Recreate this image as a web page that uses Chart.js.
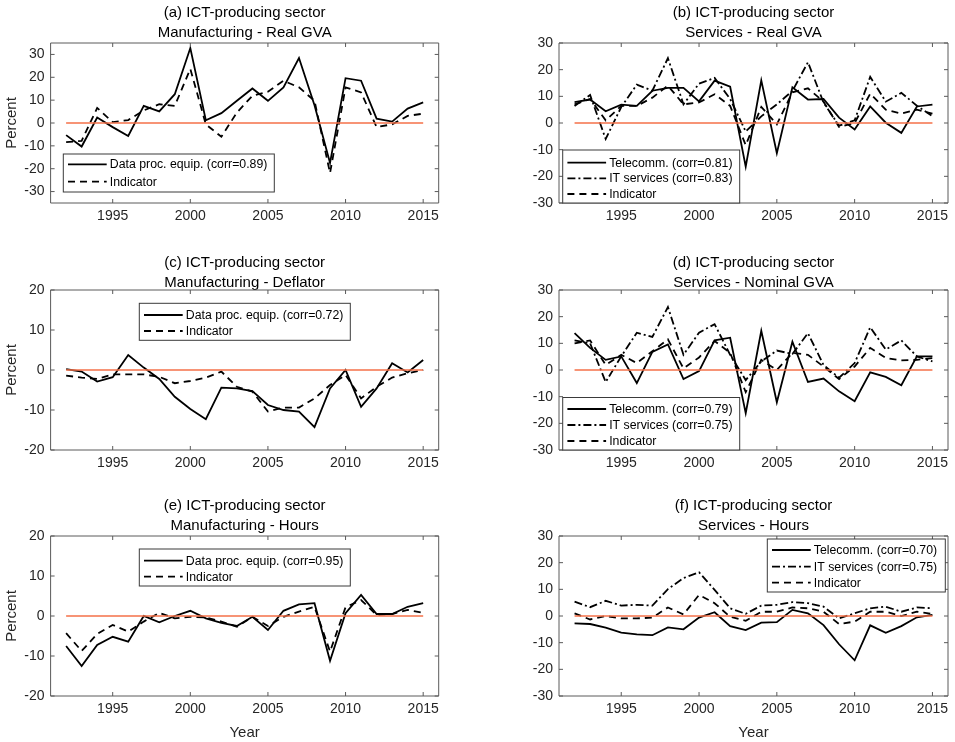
<!DOCTYPE html>
<html>
<head>
<meta charset="utf-8">
<script src="https://cdn.jsdelivr.net/npm/chart.js@4.4.1/dist/chart.umd.min.js"></script>
<style>
  html, body { margin:0; padding:0; background:#fff; }
  #wrap { position:relative; width:955px; height:742px; background:#fff; overflow:hidden; }
  #wrap canvas { position:absolute; }
</style>
</head>
<body>
<div id="wrap"></div>
<script>
// ---------------- DATA ----------------
const years = [1992,1993,1994,1995,1996,1997,1998,1999,2000,2001,2002,2003,2004,2005,2006,2007,2008,2009,2010,2011,2012,2013,2014,2015];
const xTicks = [1995,2000,2005,2010,2015];
const yTicksA = [-30,-20,-10,0,10,20,30];
const yTicks30 = [-30,-20,-10,0,10,20,30];
const yTicks20 = [-20,-10,0,10,20];
const refLine = [0,0,0,0,0,0,0,0,0,0,0,0,0,0,0,0,0,0,0,0,0,0,0,0];

// (a) Manufacturing - Real GVA
const aEquip = [-5.3,-10.3,2.4,-1.8,-5.7,7.5,5.1,12.6,32.8,1.2,4.3,9.7,15.1,9.7,15.6,28.4,7.8,-17.5,19.6,18.5,1.9,0.6,6.3,9.0];
const aInd   = [-8.4,-7.8,6.6,0.4,1.3,5.5,8.2,7.5,23.7,-0.6,-6.0,4.6,11.9,13.7,18.5,15.6,9.7,-21.9,15.6,13.4,-1.8,-0.6,3.1,4.1];
// (b) Services - Real GVA
const bTele = [7.8,8.8,4.4,6.9,6.4,12.1,13.2,13.2,8.1,15.9,13.6,-16.4,16.0,-11.3,13.4,8.8,9.0,2.0,-2.4,6.2,0.1,-3.7,6.2,6.9];
const bIT   = [6.4,10.5,-6.0,6.0,14.4,12.1,24.3,7.0,14.8,16.9,9.0,-3.2,2.5,7.0,12.0,22.8,7.7,-1.0,1.0,17.3,8.0,11.3,6.5,2.5];
const bInd  = [7.0,9.0,1.0,6.4,6.4,9.5,14.0,7.0,7.7,10.8,6.4,-8.3,6.0,-0.5,11.5,13.0,8.0,-1.5,0.0,11.0,5.0,3.5,5.0,3.5];
// (c) Manufacturing - Deflator
const cEquip = [0.2,-0.4,-2.9,-1.8,3.75,0.6,-2.25,-6.7,-9.75,-12.3,-4.4,-4.6,-5.25,-8.75,-10.0,-10.4,-14.3,-4.6,0.0,-9.2,-4.6,1.7,-0.6,2.5];
const cInd   = [-1.4,-1.9,-2.25,-1.1,-1.1,-1.1,-1.7,-3.3,-2.75,-1.9,-0.4,-4.2,-5.4,-10.4,-9.4,-9.4,-7.1,-3.75,-1.25,-7.1,-4.2,-1.9,-0.8,0.0];
// (d) Services - Nominal GVA
const dTele = [13.8,8.3,3.8,5.1,-4.9,6.8,9.6,-3.4,-0.4,11.1,12.1,-16.2,14.7,-12.1,10.6,-4.5,-3.2,-8.0,-11.7,-0.9,-2.6,-5.7,5.1,5.1];
const dIT   = [11.1,10.0,-4.5,5.1,14.0,12.4,23.6,5.7,14.0,17.2,5.7,-3.8,3.2,7.3,6.0,13.8,1.9,-2.9,2.6,16.0,7.7,11.1,5.1,3.2];
const dInd  = [10.0,11.1,1.9,5.7,2.6,7.0,11.5,0.6,4.7,10.9,6.4,-8.3,3.8,0.0,6.4,5.7,1.3,-3.4,1.3,8.3,4.5,3.6,3.8,4.5];
// (e) Manufacturing - Hours
const eEquip = [-7.5,-12.5,-7.25,-5.2,-6.4,0.0,-1.6,0.0,1.3,-0.6,-1.7,-2.5,-0.2,-3.5,1.3,2.9,3.2,-11.2,0.7,5.25,0.5,0.5,2.3,3.2];
const eInd   = [-4.3,-8.75,-4.5,-2.25,-3.9,-1.4,0.8,-0.6,-0.2,-0.4,-1.4,-2.7,-0.2,-2.5,-0.2,1.1,2.3,-8.9,2.2,4.0,0.25,0.5,1.5,0.8];
// (f) Services - Hours
const fTele = [-2.8,-3.0,-4.4,-6.2,-6.9,-7.2,-4.3,-5.0,-0.6,1.4,-3.8,-5.3,-2.5,-2.3,2.3,1.0,-3.4,-10.6,-16.6,-3.5,-6.3,-3.8,-0.5,0.4];
const fIT   = [5.4,3.3,5.7,3.9,4.2,3.9,10.1,14.2,16.4,9.8,2.9,0.8,3.9,4.2,5.2,4.8,3.5,-0.9,1.0,2.9,3.5,1.6,3.2,2.9];
const fInd  = [1.0,-1.3,0.0,-0.9,-0.9,-0.6,3.2,0.6,7.9,4.8,-0.3,-1.8,1.6,1.6,3.2,2.9,1.6,-3.0,-2.1,1.6,1.6,0.0,1.6,0.8];

// ---------------- STYLE / LAYOUT ----------------
const FONT = "'Liberation Sans', Arial, Helvetica, sans-serif";
const TXT = '#262626';
const STYLE = {
  solid:   [],
  dashdot: [8,3,2,3],
  dashed:  [7,5]
};

const panels = [
  { title:['(a) ICT-producing sector','Manufacturing - Real GVA'], tshift:0, rect:[50.6,43,438.7,203], canvas:[0,3,449,225],
    yMin:-35, yMax:35, yTicks:yTicksA, ylabel:true, xlabel:false,
    series:[['Data proc. equip. (corr=0.89)', aEquip, 'solid'], ['Indicator', aInd, 'dashed']],
    legend:{x:12.7, y:111, w:211, h:38, rows:[10.3,27.7]} },
  { title:['(b) ICT-producing sector','Services - Real GVA'], tshift:0, rect:[559,43,948,203], canvas:[510,3,445,225],
    yMin:-30, yMax:30, yTicks:yTicks30, ylabel:false, xlabel:false,
    series:[['Telecomm. (corr=0.81)', bTele, 'solid'], ['IT services (corr=0.83)', bIT, 'dashdot'], ['Indicator', bInd, 'dashed']],
    legend:{x:3.7, y:107, w:177, h:53, rows:[12.7,28.3,44]} },
  { title:['(c) ICT-producing sector','Manufacturing - Deflator'], tshift:3, rect:[50.6,290,438.7,450], canvas:[0,250,449,225],
    yMin:-20, yMax:20, yTicks:yTicks20, ylabel:true, xlabel:false,
    series:[['Data proc. equip. (corr=0.72)', cEquip, 'solid'], ['Indicator', cInd, 'dashed']],
    legend:{x:88.7, y:13.3, w:211, h:37, rows:[11.7,27.7]} },
  { title:['(d) ICT-producing sector','Services - Nominal GVA'], tshift:3, rect:[559,290,948,450], canvas:[510,250,445,225],
    yMin:-30, yMax:30, yTicks:yTicks30, ylabel:false, xlabel:false,
    series:[['Telecomm. (corr=0.79)', dTele, 'solid'], ['IT services (corr=0.75)', dIT, 'dashdot'], ['Indicator', dInd, 'dashed']],
    legend:{x:3.7, y:107.5, w:177, h:52.5, rows:[11.5,27.5,43.5]} },
  { title:['(e) ICT-producing sector','Manufacturing - Hours'], tshift:0, rect:[50.6,536,438.7,696], canvas:[0,496,449,246],
    yMin:-20, yMax:20, yTicks:yTicks20, ylabel:true, xlabel:true,
    series:[['Data proc. equip. (corr=0.95)', eEquip, 'solid'], ['Indicator', eInd, 'dashed']],
    legend:{x:88.7, y:13, w:211, h:37, rows:[11.7,27.7]} },
  { title:['(f) ICT-producing sector','Services - Hours'], tshift:0, rect:[559,536,948,696], canvas:[510,496,445,246],
    yMin:-30, yMax:30, yTicks:yTicks30, ylabel:false, xlabel:true,
    series:[['Telecomm. (corr=0.70)', fTele, 'solid'], ['IT services (corr=0.75)', fIT, 'dashdot'], ['Indicator', fInd, 'dashed']],
    legend:{x:208.3, y:3, w:178, h:53, rows:[11,27.7,43.7]} }
];

const boxPlugin = {
  id: 'matlabBox',
  afterDatasetsDraw(chart, args, opts) {
    const ctx = chart.ctx;
    const {left, top, right, bottom} = chart.chartArea;
    const sx = chart.scales.x, sy = chart.scales.y;
    ctx.save();
    ctx.strokeStyle = '#5a5a5a';
    ctx.lineWidth = 1;
    ctx.setLineDash([]);
    ctx.beginPath();
    ctx.rect(left, top, right - left, bottom - top);
    ctx.stroke();
    ctx.beginPath();
    sx.ticks.forEach(t => {
      const p = sx.getPixelForValue(t.value);
      ctx.moveTo(p, bottom); ctx.lineTo(p, bottom - 4);
      ctx.moveTo(p, top); ctx.lineTo(p, top + 4);
    });
    sy.ticks.forEach(t => {
      const p = sy.getPixelForValue(t.value);
      ctx.moveTo(left, p); ctx.lineTo(left + 4, p);
      ctx.moveTo(right, p); ctx.lineTo(right - 4, p);
    });
    ctx.stroke();

    // legend
    const lg = opts.legend;
    if (lg) {
      const bx = left + lg.x, by = top + lg.y;
      ctx.fillStyle = '#fff';
      ctx.fillRect(bx, by, lg.w, lg.h);
      ctx.strokeStyle = '#3a3a3a';
      ctx.lineWidth = 1;
      ctx.strokeRect(bx, by, lg.w, lg.h);
      ctx.font = '12.3px ' + FONT;
      ctx.textBaseline = 'middle';
      ctx.textAlign = 'left';
      opts.entries.forEach((e, i) => {
        const yy = by + lg.rows[i];
        ctx.strokeStyle = '#000';
        ctx.lineWidth = 1.8;
        ctx.setLineDash(STYLE[e.style]);
        ctx.beginPath();
        ctx.moveTo(bx + 4.7, yy); ctx.lineTo(bx + 43.4, yy);
        ctx.stroke();
        ctx.setLineDash([]);
        ctx.fillStyle = '#000';
        ctx.fillText(e.label, bx + 46.5, yy + 0.5);
      });
    }
    ctx.restore();
  }
};

const wrap = document.getElementById('wrap');
panels.forEach(p => {
  const [L, T, R, B] = p.rect;
  const [cx, cy, cw, ch] = p.canvas;
  const cv = document.createElement('canvas');
  cv.width = cw; cv.height = ch;
  cv.style.left = cx + 'px'; cv.style.top = cy + 'px';
  cv.style.width = cw + 'px'; cv.style.height = ch + 'px';
  wrap.appendChild(cv);

  const titleH = 40;
  const yW = L - cx;
  const xH = cy + ch - B;

  const datasets = [{
    label: 'zero', data: refLine.map((v, i) => ({x: years[i], y: v})),
    borderColor: '#F47048', borderWidth: 1.3, pointRadius: 0, order: 0, borderDash: []
  }];
  p.series.forEach(s => {
    datasets.push({
      label: s[0], data: s[1].map((v, i) => ({x: years[i], y: v})),
      borderColor: '#000', borderWidth: 1.8, pointRadius: 0, tension: 0,
      borderDash: STYLE[s[2]], order: 1, borderCapStyle: 'butt', borderJoinStyle: 'miter'
    });
  });

  new Chart(cv, {
    type: 'line',
    data: { datasets },
    options: {
      responsive: false, animation: false, devicePixelRatio: 1,
      layout: { padding: { left: 0, top: T - cy - titleH, right: cx + cw - R, bottom: 0 } },
      plugins: {
        legend: { display: false },
        tooltip: { enabled: false },
        title: { display: true, text: p.title, fullSize: false, padding: { top: p.tshift, bottom: -p.tshift }, color: '#000',
                 font: { family: FONT, size: 15, weight: 'normal', lineHeight: 20/15 } },
        matlabBox: { legend: p.legend, entries: p.series.map(s => ({label: s[0], style: s[2]})) }
      },
      scales: {
        x: {
          type: 'linear', position: 'bottom', min: 1991, max: 2016,
          grid: { display: false, drawTicks: false }, border: { display: false },
          afterBuildTicks: s => { s.ticks = xTicks.map(v => ({value: v})); },
          afterFit: s => { s.height = xH; },
          ticks: { padding: 5, color: TXT, font: { family: FONT, size: 14 }, maxRotation: 0, autoSkip: false,
                   callback: v => String(v) },
          title: { display: p.xlabel, text: 'Year', color: TXT, padding: 0, font: { family: FONT, size: 15 } }
        },
        y: {
          type: 'linear', position: 'left', min: p.yMin, max: p.yMax,
          grid: { display: false, drawTicks: false }, border: { display: false },
          afterBuildTicks: s => { s.ticks = p.yTicks.map(v => ({value: v})); },
          afterFit: s => { s.width = yW; },
          ticks: { padding: 6, color: TXT, font: { family: FONT, size: 14 }, autoSkip: false,
                   callback: v => String(v) },
          title: { display: p.ylabel, text: 'Percent', color: TXT, padding: { top: 3, bottom: 0 }, font: { family: FONT, size: 15 } }
        }
      }
    },
    plugins: [boxPlugin]
  });
});
</script>
</body>
</html>
